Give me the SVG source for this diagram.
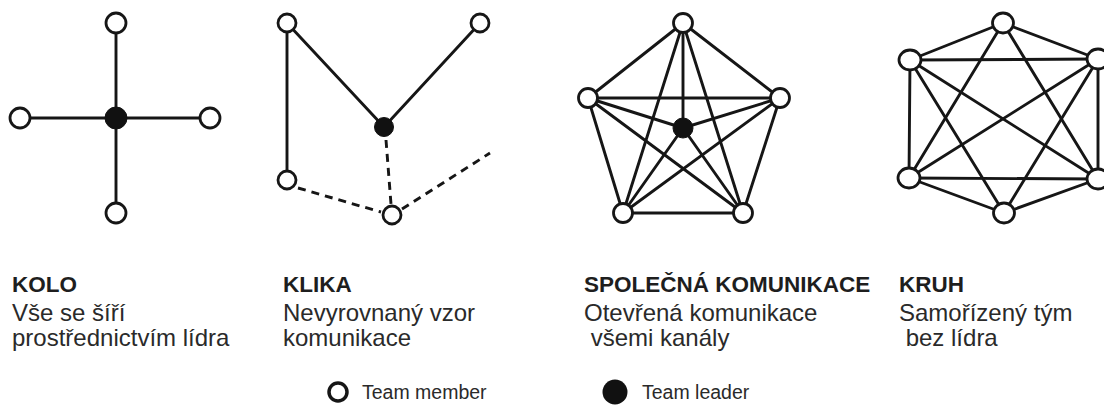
<svg xmlns="http://www.w3.org/2000/svg" width="1104" height="406" viewBox="0 0 1104 406">
  <style>
    .edge { stroke: #161616; stroke-width: 2.9; fill: none; stroke-linecap: round; }
    .dash { stroke: #161616; stroke-width: 2.9; fill: none; stroke-dasharray: 8 6; }
    .member { fill: #ffffff; stroke: #161616; stroke-width: 2.8; }
    .leader { fill: #111111; stroke: #111111; stroke-width: 1; }
    .title { font-family: "Liberation Sans", Arial, sans-serif; font-weight: bold; font-size: 22.5px; fill: #1e1e1e; }
    .desc { font-family: "Liberation Sans", Arial, sans-serif; font-size: 24px; fill: #2a2a2a; }
    .legend { font-family: "Liberation Sans", Arial, sans-serif; font-size: 19.5px; fill: #2a2a2a; }
  </style>
  <rect width="1104" height="406" fill="#ffffff"/>

  <!-- connectors -->
  <g id="connectors">
    <!-- wheel -->
    <line class="edge" x1="116" y1="23" x2="116" y2="213"/>
    <line class="edge" x1="20" y1="118" x2="210" y2="118"/>
    <!-- chain -->
    <line class="edge" x1="287" y1="23" x2="287" y2="180"/>
    <line class="edge" x1="287" y1="23" x2="384" y2="127"/>
    <line class="edge" x1="480" y1="23" x2="384" y2="127"/>
    <line class="dash" x1="386" y1="140" x2="391" y2="204"/>
    <line class="dash" x1="298" y1="188" x2="381" y2="212"/>
    <line class="dash" x1="402" y1="209" x2="490" y2="153"/>
    <!-- all-channel -->
    <g>
      <line class="edge" x1="683" y1="23" x2="588" y2="98"/>
      <line class="edge" x1="683" y1="23" x2="780" y2="98"/>
      <line class="edge" x1="683" y1="23" x2="623" y2="213"/>
      <line class="edge" x1="683" y1="23" x2="743" y2="213"/>
      <line class="edge" x1="683" y1="23" x2="683" y2="128"/>
      <line class="edge" x1="588" y1="98" x2="780" y2="98"/>
      <line class="edge" x1="588" y1="98" x2="623" y2="213"/>
      <line class="edge" x1="588" y1="98" x2="743" y2="213"/>
      <line class="edge" x1="588" y1="98" x2="683" y2="128"/>
      <line class="edge" x1="780" y1="98" x2="623" y2="213"/>
      <line class="edge" x1="780" y1="98" x2="743" y2="213"/>
      <line class="edge" x1="780" y1="98" x2="683" y2="128"/>
      <line class="edge" x1="623" y1="213" x2="743" y2="213"/>
      <line class="edge" x1="623" y1="213" x2="683" y2="128"/>
      <line class="edge" x1="743" y1="213" x2="683" y2="128"/>
    </g>
    <!-- circle -->
    <g>
      <line class="edge" x1="1003" y1="23" x2="910" y2="60"/>
      <line class="edge" x1="1003" y1="23" x2="1098" y2="59"/>
      <line class="edge" x1="1003" y1="23" x2="909" y2="178"/>
      <line class="edge" x1="1003" y1="23" x2="1098" y2="179"/>
      <line class="edge" x1="910" y1="60" x2="1098" y2="59"/>
      <line class="edge" x1="910" y1="60" x2="909" y2="178"/>
      <line class="edge" x1="910" y1="60" x2="1098" y2="179"/>
      <line class="edge" x1="910" y1="60" x2="1004" y2="213"/>
      <line class="edge" x1="1098" y1="59" x2="1098" y2="179"/>
      <line class="edge" x1="1098" y1="59" x2="909" y2="178"/>
      <line class="edge" x1="1098" y1="59" x2="1004" y2="213"/>
      <line class="edge" x1="909" y1="178" x2="1098" y2="179"/>
      <line class="edge" x1="909" y1="178" x2="1004" y2="213"/>
      <line class="edge" x1="1098" y1="179" x2="1004" y2="213"/>
    </g>
  </g>

  <!-- wheel nodes -->
  <g id="kolo">
    <circle class="member" cx="116" cy="23" r="10"/>
    <circle class="member" cx="20" cy="118" r="10"/>
    <circle class="member" cx="210" cy="118" r="10"/>
    <circle class="member" cx="116" cy="213" r="10"/>
    <circle class="leader" cx="116" cy="118" r="11"/>
  </g>

  <!-- chain nodes -->
  <g id="klika">
    <circle class="member" cx="287" cy="23" r="9"/>
    <circle class="member" cx="480" cy="23" r="9"/>
    <circle class="member" cx="287" cy="180" r="9"/>
    <circle class="member" cx="392" cy="215" r="9"/>
    <circle class="leader" cx="384" cy="127" r="9.5"/>
  </g>

  <!-- all-channel nodes -->
  <g id="spolecna">
    <circle class="member" cx="683" cy="23" r="9.5"/>
    <circle class="member" cx="588" cy="98" r="9.5"/>
    <circle class="member" cx="780" cy="98" r="9.5"/>
    <circle class="member" cx="623" cy="213" r="9.5"/>
    <circle class="member" cx="743" cy="213" r="9.5"/>
    <circle class="leader" cx="683" cy="128" r="10"/>
  </g>

  <!-- circle nodes -->
  <g id="kruh">
    <ellipse class="member" cx="1003" cy="23" rx="10.5" ry="10"/>
    <ellipse class="member" cx="910" cy="60" rx="11" ry="10"/>
    <ellipse class="member" cx="1098" cy="59" rx="11" ry="10"/>
    <ellipse class="member" cx="909" cy="178" rx="11" ry="10"/>
    <ellipse class="member" cx="1098" cy="179" rx="11" ry="10"/>
    <ellipse class="member" cx="1004" cy="213" rx="10.5" ry="10"/>
  </g>

  <!-- captions -->
  <g id="label-kolo">
    <text class="title" x="12" y="292">KOLO</text>
    <text class="desc" x="12" y="321">Vše se šíří</text>
    <text class="desc" x="12" y="346">prostřednictvím lídra</text>
  </g>
  <g id="label-klika">
    <text class="title" x="283" y="292">KLIKA</text>
    <text class="desc" x="283" y="321">Nevyrovnaný vzor</text>
    <text class="desc" x="283" y="346">komunikace</text>
  </g>
  <g id="label-spolecna">
    <text class="title" x="584" y="292">SPOLEČNÁ KOMUNIKACE</text>
    <text class="desc" x="584" y="321">Otevřená komunikace</text>
    <text class="desc" x="584" y="346" xml:space="preserve"> všemi kanály</text>
  </g>
  <g id="label-kruh">
    <text class="title" x="899" y="292">KRUH</text>
    <text class="desc" x="899" y="321">Samořízený tým</text>
    <text class="desc" x="899" y="346" xml:space="preserve"> bez lídra</text>
  </g>

  <!-- legend -->
  <g id="legend-member">
    <circle cx="338" cy="392" r="9" fill="#ffffff" stroke="#161616" stroke-width="3.5"/>
    <text class="legend" x="362" y="399">Team member</text>
  </g>
  <g id="legend-leader">
    <circle cx="615" cy="392" r="12.5" fill="#111111"/>
    <text class="legend" x="642" y="399">Team leader</text>
  </g>
</svg>
